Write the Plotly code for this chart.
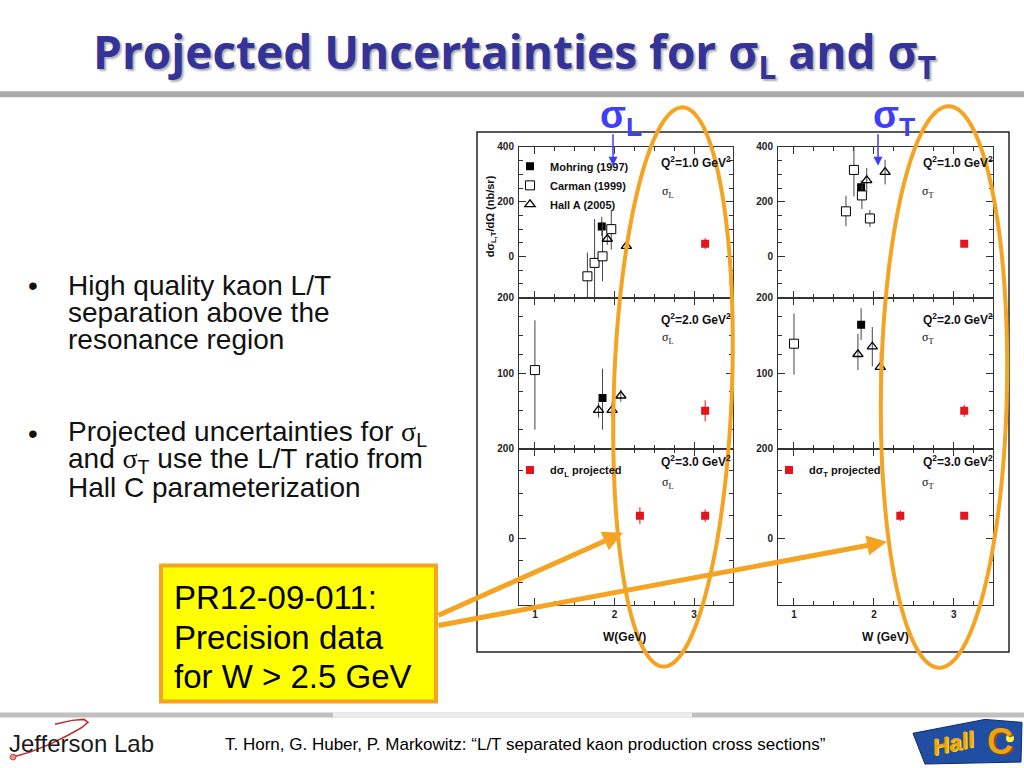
import numpy as np
import plotly.graph_objects as go

# ---------------- data ----------------
# W in GeV, cross sections in nb/sr
# Q^2 = 1.0, sigma_L
mohring_W_L1 = [1.84]
mohring_L1 = [110]
mohring_L1_err = [35]
carman_W_L1 = [1.66, 1.75, 1.85, 1.96]
carman_L1 = [-72, -23, 1, 100]
carman_L1_errp = [87, 160, 123, 71]
carman_L1_errm = [95, 160, 91, 75]
halla_W_L1 = [1.91, 2.15]
halla_L1 = [64, 38]
halla_L1_err = [21, 15]
proj_W_L1 = [3.14]
proj_L1 = [47]
proj_L1_err = [20]

# Q^2 = 1.0, sigma_T
mohring_W_T1 = [1.84]
mohring_T1 = [253]
mohring_T1_err = [25]
carman_W_T1 = [1.65, 1.75, 1.85, 1.95]
carman_T1 = [165, 316, 223, 139]
carman_T1_errp = [57, 103, 39, 31]
carman_T1_errm = [54, 97, 50, 31]
halla_W_T1 = [1.91, 2.14]
halla_T1 = [278, 308]
halla_T1_err = [45, 45]
proj_W_T1 = [3.13]
proj_T1 = [47]
proj_T1_err = [8]

# Q^2 = 2.0, sigma_L
mohring_W_L2 = [1.85]
mohring_L2 = [67]
mohring_L2_errp = [39]
mohring_L2_errm = [42]
carman_W_L2 = [1.0]
carman_L2 = [104]
carman_L2_errp = [66]
carman_L2_errm = [79]
halla_W_L2 = [1.80, 1.97, 2.08]
halla_L2 = [51, 51, 70]
halla_L2_err = [10, 10, 8]
proj_W_L2 = [3.14]
proj_L2 = [50]
proj_L2_err = [14]

# Q^2 = 2.0, sigma_T
mohring_W_T2 = [1.84]
mohring_T2 = [164]
mohring_T2_errp = [22]
mohring_T2_errm = [20]
carman_W_T2 = [1.0]
carman_T2 = [139]
carman_T2_errp = [40]
carman_T2_errm = [41]
halla_W_T2 = [1.80, 1.98, 2.08]
halla_T2 = [125, 135, 108]
halla_T2_errp = [27, 26, 20]
halla_T2_errm = [21, 26, 20]
proj_W_T2 = [3.13]
proj_T2 = [50]
proj_T2_err = [8]

# Q^2 = 3.0 projections
proj_W_L3 = [2.32, 3.14]
proj_L3 = [50, 50]
proj_L3_err = [19, 14]
proj_W_T3 = [2.33, 3.13]
proj_T3 = [50, 50]
proj_T3_err = [12, 5]

q2_labels = ["Q<sup>2</sup>=1.0 GeV<sup>2</sup>", "Q<sup>2</sup>=2.0 GeV<sup>2</sup>",
             "Q<sup>2</sup>=3.0 GeV<sup>2</sup>"]
sigma_labels = ["σ<sub>L</sub>", "σ<sub>T</sub>"]
x_titles = ["W(GeV)", "W (GeV)"]
y_title = "dσ<sub>L,T</sub>/dΩ (nb/sr)"
legend_names = ["Mohring (1997)", "Carman (1999)", "Hall A (2005)"]
proj_names = ["dσ<sub>L</sub> projected", "dσ<sub>T</sub> projected"]

# ---------------- helpers ----------------
WID, HEI = 1024, 768


def px(x):
    return x / WID


def py(y):
    return 1 - y / HEI


ORANGE = "#F4A422"
RED = "#E3141B"
ERRC = "#444444"
AXC = "#333333"
TICKFONT = dict(family="Liberation Sans", size=10, color="#222", weight="bold")

fig = go.Figure()

cols = [(519, 733), (778, 993)]
rows = [
    dict(top=142, bot=294, rng=[-150, 400], dtick=200, minor=50, tv=[0, 200, 400], tt=["0", "200", "400"]),
    dict(top=294, bot=446, rng=[0, 200], dtick=100, minor=25, tv=[0, 100, 200], tt=["", "100", "200"]),
    dict(top=446, bot=604, rng=[-150, 200], dtick=200, minor=50, tv=[0, 200], tt=["0", "200"]),
]

layout_axes = {}
for r, row in enumerate(rows):
    for c, col in enumerate(cols):
        i = r * 2 + c + 1
        xs = "" if i == 1 else str(i)
        layout_axes["xaxis" + xs] = dict(
            domain=[px(col[0]), px(col[1])], anchor="y" + xs, range=[0.8, 3.49],
            showline=True, linecolor=AXC, linewidth=1, mirror="allticks",
            ticks="inside", ticklen=7, tickwidth=1, tickcolor=AXC,
            tickvals=[1, 2, 3], ticktext=["1", "2", "3"],
            showticklabels=(r == 2), tickfont=TICKFONT,
            minor=dict(dtick=0.25, tick0=0, ticks="inside", ticklen=4, tickcolor=AXC),
            showgrid=False, zeroline=False, fixedrange=True,
        )
        layout_axes["yaxis" + xs] = dict(
            domain=[py(row["bot"]), py(row["top"])], anchor="x" + xs, range=row["rng"],
            showline=True, linecolor=AXC, linewidth=1, mirror="allticks",
            ticks="inside", ticklen=7, tickwidth=1, tickcolor=AXC,
            tickvals=row["tv"], ticktext=row["tt"], tickfont=TICKFONT,
            minor=dict(dtick=row["minor"], tick0=0, ticks="inside", ticklen=4, tickcolor=AXC),
            showgrid=False, zeroline=False, fixedrange=True, ticklabelstandoff=2,
        )


def add(panel, xw, yv, errp, errm, kind, name=None, legend=None):
    xs = "" if panel == 1 else str(panel)
    if kind == "mohring":
        marker = dict(symbol="square", size=8, color="black")
        ec = ERRC
    elif kind == "carman":
        marker = dict(symbol="square", size=9, color="white", line=dict(color="black", width=1))
        ec = ERRC
    elif kind == "halla":
        marker = dict(symbol="triangle-up-open", size=9, color="black", line=dict(color="black", width=1.3))
        ec = ERRC
    else:
        marker = dict(symbol="square", size=8, color=RED)
        ec = RED
    fig.add_trace(go.Scatter(
        x=xw, y=yv, mode="markers", marker=marker,
        error_y=dict(type="data", array=errp, arrayminus=errm, symmetric=False,
                     color=ec, thickness=1, width=0),
        xaxis="x" + xs, yaxis="y" + xs,
        name=name if name else kind, showlegend=name is not None,
        legend=legend if legend else "legend", hoverinfo="skip",
    ))


# top-left  (Q2=1, sigma_L)
add(1, mohring_W_L1, mohring_L1, mohring_L1_err, mohring_L1_err, "mohring", legend_names[0])
add(1, carman_W_L1, carman_L1, carman_L1_errp, carman_L1_errm, "carman", legend_names[1])
add(1, halla_W_L1, halla_L1, halla_L1_err, halla_L1_err, "halla", legend_names[2])
add(1, proj_W_L1, proj_L1, proj_L1_err, proj_L1_err, "proj")
# top-right (Q2=1, sigma_T)
add(2, mohring_W_T1, mohring_T1, mohring_T1_err, mohring_T1_err, "mohring")
add(2, carman_W_T1, carman_T1, carman_T1_errp, carman_T1_errm, "carman")
add(2, halla_W_T1, halla_T1, halla_T1_err, halla_T1_err, "halla")
add(2, proj_W_T1, proj_T1, proj_T1_err, proj_T1_err, "proj")
# middle-left (Q2=2, sigma_L)
add(3, mohring_W_L2, mohring_L2, mohring_L2_errp, mohring_L2_errm, "mohring")
add(3, carman_W_L2, carman_L2, carman_L2_errp, carman_L2_errm, "carman")
add(3, halla_W_L2, halla_L2, halla_L2_err, halla_L2_err, "halla")
add(3, proj_W_L2, proj_L2, proj_L2_err, proj_L2_err, "proj")
# middle-right (Q2=2, sigma_T)
add(4, mohring_W_T2, mohring_T2, mohring_T2_errp, mohring_T2_errm, "mohring")
add(4, carman_W_T2, carman_T2, carman_T2_errp, carman_T2_errm, "carman")
add(4, halla_W_T2, halla_T2, halla_T2_errp, halla_T2_errm, "halla")
add(4, proj_W_T2, proj_T2, proj_T2_err, proj_T2_err, "proj")
# bottom (Q2=3 projections)
add(5, proj_W_L3, proj_L3, proj_L3_err, proj_L3_err, "proj", proj_names[0], "legend2")
add(6, proj_W_T3, proj_T3, proj_T3_err, proj_T3_err, "proj", proj_names[1], "legend3")

LEGFONT = dict(family="Liberation Sans", size=11, color="#111", weight="bold")
legend_common = dict(xanchor="left", yanchor="top", bgcolor="rgba(0,0,0,0)", font=LEGFONT,
                     itemwidth=30, tracegroupgap=0, borderwidth=0)

ann = []


def text(x, y, s, size, color="#000", family="Liberation Sans", xanchor="center", weight="normal",
         angle=0, shadow=None, style="normal"):
    f = dict(family=family, size=size, color=color, weight=weight, style=style)
    if shadow:
        f["shadow"] = shadow
    ann.append(dict(x=px(x), y=py(y), xref="paper", yref="paper", text=s, showarrow=False,
                    xanchor=xanchor, yanchor="middle", font=f, textangle=angle))


# panel annotations
q2_y = [157, 315, 459]
sig_y = [187, 335, 481]
for r in range(3):
    text(696, q2_y[r], q2_labels[r], 12, "#111", weight="bold")
    text(958, q2_y[r], q2_labels[r], 12, "#111", weight="bold")
    text(668, sig_y[r], sigma_labels[0], 12, "#111", family="Liberation Serif")
    text(928, sig_y[r], sigma_labels[1], 12, "#111", family="Liberation Serif")
text(624, 636, x_titles[0], 12, "#111", weight="bold")
text(885, 636, x_titles[1], 12, "#111", weight="bold")
text(491, 212, y_title, 11, "#111", weight="bold", angle=-90)

# slide texts
text(514, 48, "Projected Uncertainties for σ<sub>L</sub> and σ<sub>T</sub>", 46, "#333399",
     family="Open Sans", weight="bold", shadow="2px 2px 2px #b0b0b0")
text(598, 113, "σ<sub>L</sub>", 38, "#3F3FF5", weight="bold", xanchor="left")
text(871, 113, "σ<sub>T</sub>", 38, "#3F3FF5", weight="bold", xanchor="left")

SIG = '<span style="font-family:Liberation Serif">σ</span>'
text(33, 282, "•", 28, "#111")
text(66, 282, "High quality kaon L/T", 28, "#111", xanchor="left")
text(66, 309, "separation above the", 28, "#111", xanchor="left")
text(66, 336, "resonance region", 28, "#111", xanchor="left")
text(33, 431, "•", 28, "#111")
text(66, 431, "Projected uncertainties for " + SIG + "<sub>L</sub>", 28, "#111", xanchor="left")
text(66, 458, "and " + SIG + "<sub>T</sub> use the L/T ratio from", 28, "#111", xanchor="left")
text(66, 485, "Hall C parameterization", 28, "#111", xanchor="left")

text(172, 596, "PR12-09-011:", 33, "#000", xanchor="left")
text(172, 636, "Precision data", 33, "#000", xanchor="left")
text(172, 676, "for W &gt; 2.5 GeV", 33, "#000", xanchor="left")

text(7, 743, "Jefferson Lab", 24, "#1a1a1a", xanchor="left")
text(223, 744, "T. Horn, G. Huber, P. Markowitz: “L/T separated kaon production cross sections”",
     17, "#000", xanchor="left")
text(953, 743, "Hall", 23, "#F2A20F", weight="bold", style="italic", angle=-12,
     shadow="1px 1px 0 #ffe000")
text(1000, 741, "C", 36, "#F2A20F", weight="bold", shadow="2px 1px 0 #8a4a00")

# arrows
def arrow(tip, tail, color, width, size):
    ann.append(dict(x=px(tip[0]), y=py(tip[1]), xref="paper", yref="paper", text="",
                    showarrow=True, ax=tail[0] - tip[0], ay=tail[1] - tip[1],
                    axref="pixel", ayref="pixel", arrowhead=2, arrowsize=size,
                    arrowwidth=width, arrowcolor=color, standoff=0, startstandoff=0))


arrow((613, 161), (613, 128), "#3F3FF5", 1.5, 1.2)
arrow((878, 161), (878, 128), "#3F3FF5", 1.5, 1.2)
arrow((623, 531), (437, 614), ORANGE, 5, 0.8)
arrow((887, 540), (437, 624), ORANGE, 5, 0.8)

# shapes
shapes = []


def rect(x0, y0, x1, y1, fill=None, line=None, lw=0, layer="above"):
    shapes.append(dict(type="rect", xref="paper", yref="paper", x0=px(x0), x1=px(x1),
                       y0=py(y1), y1=py(y0), fillcolor=fill if fill else "rgba(0,0,0,0)",
                       line=dict(color=line if line else "rgba(0,0,0,0)", width=lw), layer=layer))


def path(pts, fill=None, line=None, lw=1, closed=True, layer="above"):
    d = "M " + " L ".join(f"{px(x):.5f},{py(y):.5f}" for x, y in pts) + (" Z" if closed else "")
    shapes.append(dict(type="path", xref="paper", yref="paper", path=d,
                       fillcolor=fill if fill else "rgba(0,0,0,0)",
                       line=dict(color=line if line else "rgba(0,0,0,0)", width=lw), layer=layer))


def ellipse_pts(cx, cy, a, b, ang):
    t = np.linspace(0, 2 * np.pi, 160)
    th = np.radians(ang)
    u, v = a * np.cos(t), b * np.sin(t)
    return list(zip(cx + u * np.cos(th) - v * np.sin(th), cy + u * np.sin(th) + v * np.cos(th)))


rect(0, 86, 1024, 92, fill="#ababab")
rect(477, 127, 1009, 651, line="#222", lw=1.5, layer="below")
rect(0, 712, 1024, 717, fill="#c0c0c0")
rect(333, 712, 692, 717, fill="#ededed")
path(ellipse_pts(673, 384, 59, 282, 2.0), line=ORANGE, lw=4)
path(ellipse_pts(944, 384, 63, 283, 1.0), line=ORANGE, lw=4)
rect(161, 564, 436, 701, fill="#FFFF00", line=ORANGE, lw=4)
# Hall C logo background
path([(913, 733), (985, 719), (1022, 722), (1021, 762), (925, 764)], fill="#1f4ea3", line="#0d2a66", lw=1, layer="below")
shapes.append(dict(type="circle", xref="paper", yref="paper", x0=px(1006), x1=px(1014),
                   y0=py(742), y1=py(734), fillcolor="#fff23a", line=dict(width=0)))
# Jefferson Lab swoosh
path([(13, 757), (30, 752), (50, 744), (68, 735), (82, 727), (88, 722), (84, 719), (72, 720), (55, 724)],
     line="#c0272d", lw=1.5, closed=False)
shapes.append(dict(type="circle", xref="paper", yref="paper", x0=px(10), x1=px(16),
                   y0=py(760), y1=py(754), fillcolor="#e89090", line=dict(color="#c0272d", width=0.8)))

fig.update_layout(
    width=WID, height=HEI, margin=dict(l=0, r=0, t=0, b=0),
    paper_bgcolor="white", plot_bgcolor="rgba(0,0,0,0)",
    annotations=ann, shapes=shapes,
    legend=dict(x=px(510), y=py(147), **legend_common),
    legend2=dict(x=px(510), y=py(453), **legend_common),
    legend3=dict(x=px(769), y=py(453), **legend_common),
    **layout_axes,
)

fig.write_html("out.html", config={"displayModeBar": False},
               post_script="document.body.style.margin='0';document.body.style.overflow='hidden';")
